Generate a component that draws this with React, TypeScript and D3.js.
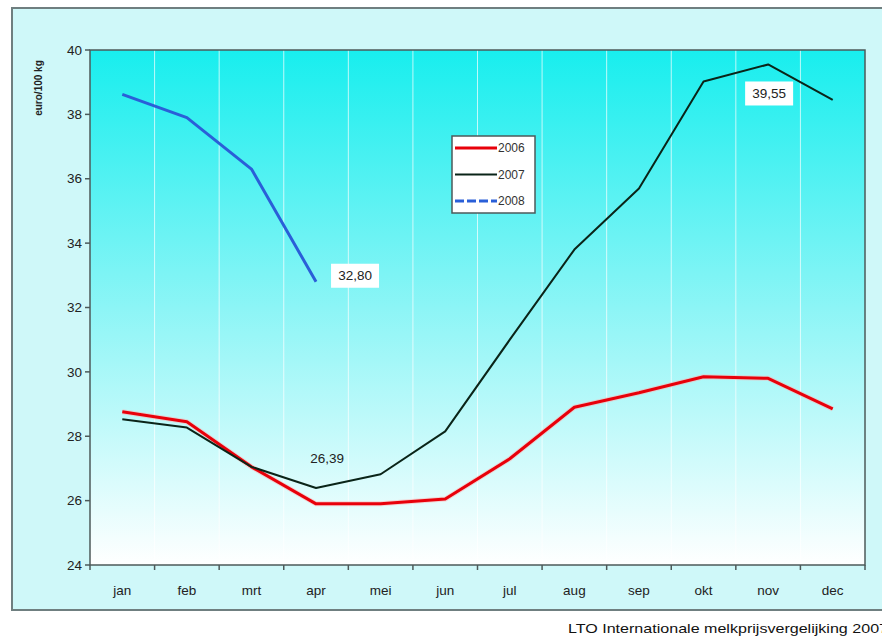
import React from "react";
import * as d3 from "d3";

const months = ["jan", "feb", "mrt", "apr", "mei", "jun", "jul", "aug", "sep", "okt", "nov", "dec"];
const values2006 = [28.76, 28.45, 27.05, 25.9, 25.9, 26.05, 27.3, 28.9, 29.35, 29.85, 29.8, 28.85];
const values2007 = [28.53, 28.27, 27.05, 26.39, 26.82, 28.15, 31.0, 33.8, 35.7, 39.02, 39.55, 38.45];
const values2008 = [38.62, 37.9, 36.3, 32.8];
const yTicks = [24, 26, 28, 30, 32, 34, 36, 38, 40];
const seriesNames = ["2006", "2007", "2008"];

const W = 882, H = 637;
const M = { left: 90, right: 865, top: 50, bottom: 565 };

export default function App() {
  const x = d3.scaleBand<string>().domain(months).range([M.left, M.right]);
  const y = d3.scaleLinear().domain([24, 40]).range([M.bottom, M.top]);
  const cx = (m: string) => (x(m) as number) + x.bandwidth() / 2;
  const line = d3.line<number>().x((_, i) => cx(months[i])).y((d) => y(d));
  const font = "Arial, 'Liberation Sans', sans-serif";
  const boundaries = months.map((m) => x(m) as number).slice(1);

  const apr = 3, nov = 10;
  const fmt = (v: number) => v.toFixed(2).replace(".", ",");

  return (
    <svg width={W} height={H} style={{ position: "absolute", left: 0, top: 0, background: "#fff" }} fontFamily={font}>
      <defs>
        <linearGradient id="plotGrad" x1="0" y1="0" x2="0" y2="1">
          <stop offset="0" stopColor="#18eeee" />
          <stop offset="0.5" stopColor="#8cf5f6" />
          <stop offset="1" stopColor="#ffffff" />
        </linearGradient>
      </defs>
      <rect x={12} y={8} width={880} height={602} fill="#cff8f9" stroke="#6f7f80" strokeWidth={2} />
      <rect x={M.left} y={M.top} width={M.right - M.left} height={M.bottom - M.top} fill="url(#plotGrad)" />
      {boundaries.map((b, i) => (
        <line key={i} x1={b} x2={b} y1={M.top} y2={M.bottom} stroke="#ffffff" strokeOpacity={0.7} strokeWidth={1} />
      ))}
      <rect x={M.left} y={M.top} width={M.right - M.left} height={M.bottom - M.top} fill="none" stroke="#4d5a5a" strokeWidth={1.5} />
      {yTicks.map((t) => (
        <g key={t}>
          <line x1={M.left - 5} x2={M.left} y1={y(t)} y2={y(t)} stroke="#4d5a5a" strokeWidth={1.5} />
          <text x={M.left - 8} y={y(t)} dy="0.35em" textAnchor="end" fontSize={13.5} fill="#222">{t}</text>
        </g>
      ))}
      {[M.left, ...boundaries, M.right].map((b, i) => (
        <line key={i} x1={b} x2={b} y1={M.bottom} y2={M.bottom + 5} stroke="#4d5a5a" strokeWidth={1.5} />
      ))}
      {months.map((m) => (
        <text key={m} x={cx(m)} y={M.bottom + 30} textAnchor="middle" fontSize={13.5} fill="#222">{m}</text>
      ))}
      <text transform={`translate(42,88) rotate(-90)`} textAnchor="middle" fontSize={10} fontWeight="bold" fill="#222">euro/100 kg</text>

      <path d={line(values2006) || ""} fill="none" stroke="#ffb0b0" strokeWidth={5} strokeOpacity={0.5} strokeLinejoin="round" />
      <path d={line(values2006) || ""} fill="none" stroke="#e8000a" strokeWidth={3} strokeLinejoin="round" />
      <path d={line(values2007) || ""} fill="none" stroke="#0a2418" strokeWidth={2} strokeLinejoin="round" />
      <path d={line(values2008) || ""} fill="none" stroke="#2a5fd8" strokeWidth={3} strokeLinejoin="round" />

      <rect x={cx(months[apr]) + 15} y={y(values2008[apr]) - 18} width={48} height={24} fill="#ffffff" />
      <text x={cx(months[apr]) + 39} y={y(values2008[apr]) - 6} dy="0.35em" textAnchor="middle" fontSize={13.5} fill="#222">{fmt(values2008[apr])}</text>
      <text x={cx(months[apr]) + 11} y={y(values2007[apr]) - 30} dy="0.35em" textAnchor="middle" fontSize={13.5} fill="#222">{fmt(values2007[apr])}</text>
      <rect x={cx(months[nov]) - 23} y={y(values2007[nov]) + 17} width={48} height={24} fill="#ffffff" />
      <text x={cx(months[nov]) + 1} y={y(values2007[nov]) + 29} dy="0.35em" textAnchor="middle" fontSize={13.5} fill="#222">{fmt(values2007[nov])}</text>

      <g>
        <rect x={452} y={136} width={83} height={77} fill="#ffffff" stroke="#4d5a5a" strokeWidth={1.5} />
        {seriesNames.map((s, i) => {
          const ly = 148 + i * 26.5;
          const color = ["#e8000a", "#0a2418", "#2a5fd8"][i];
          return (
            <g key={s}>
              <line x1={455} x2={497} y1={ly} y2={ly} stroke={color} strokeWidth={i === 1 ? 2 : 3} strokeDasharray={i === 2 ? "9 3" : undefined} />
              <text x={498} y={ly} dy="0.35em" fontSize={12} fill="#333">{s}</text>
            </g>
          );
        })}
      </g>

      <text x={568} y={633} fontSize={13} fill="#111" textLength={320} lengthAdjust="spacingAndGlyphs">LTO Internationale melkprijsvergelijking 2007</text>
    </svg>
  );
}
